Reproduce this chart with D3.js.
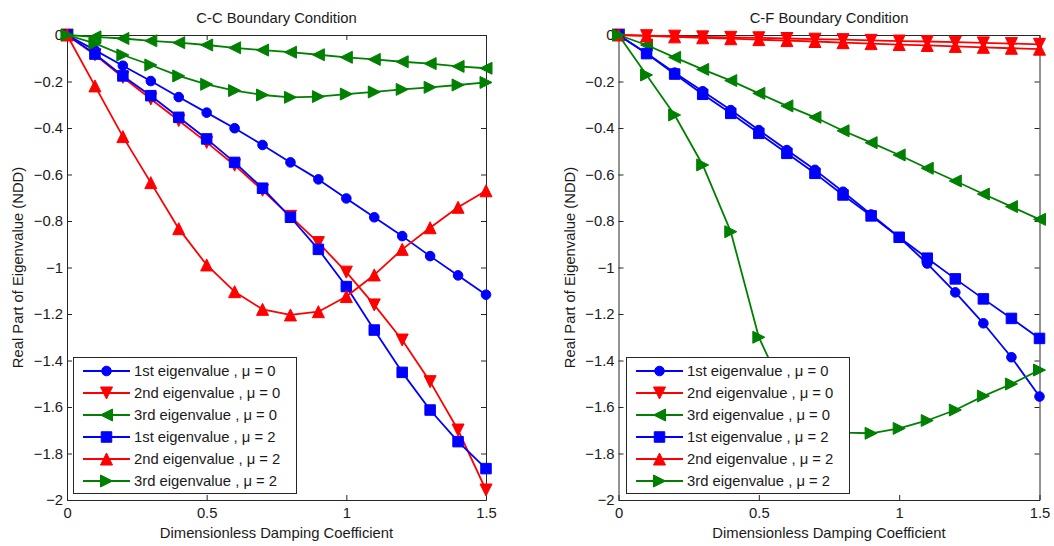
<!DOCTYPE html>
<html>
<head>
<meta charset="utf-8">
<script src="https://cdn.jsdelivr.net/npm/d3@7"></script>
<style>
  html, body { margin: 0; padding: 0; background: #fff; }
  svg { display: block; font-family: "Liberation Sans", Arial, sans-serif; }
</style>
</head>
<body>
<svg id="chart" width="1054" height="546"></svg>
<script>
// Damping coefficient samples shared by every curve
const damping = [0, 0.1, 0.2, 0.3, 0.4, 0.5, 0.6, 0.7, 0.8, 0.9, 1.0, 1.1, 1.2, 1.3, 1.4, 1.5];

const xTicks = [0, 0.5, 1, 1.5];
const yTicks = [0, -0.2, -0.4, -0.6, -0.8, -1, -1.2, -1.4, -1.6, -1.8, -2];

const seriesNames = [
  "1st eigenvalue , \u03bc = 0",
  "2nd eigenvalue , \u03bc = 0",
  "3rd eigenvalue , \u03bc = 0",
  "1st eigenvalue , \u03bc = 2",
  "2nd eigenvalue , \u03bc = 2",
  "3rd eigenvalue , \u03bc = 2"
];
const seriesColors = ["#0000ff", "#ff0000", "#008000", "#0000ff", "#ff0000", "#008000"];
const seriesMarkers = ["circle", "triDown", "triLeft", "square", "triUp", "triRight"];

// Clamped-clamped: real part of eigenvalues
const ccFirstMu0  = [0, -0.065, -0.132, -0.198, -0.267, -0.334, -0.401, -0.473, -0.548, -0.621, -0.703, -0.784, -0.865, -0.951, -1.034, -1.117];
const ccSecondMu0 = [0, -0.085, -0.182, -0.275, -0.368, -0.462, -0.560, -0.668, -0.780, -0.893, -1.020, -1.161, -1.312, -1.491, -1.699, -1.957];
const ccThirdMu0  = [0, -0.008, -0.015, -0.025, -0.033, -0.043, -0.055, -0.065, -0.074, -0.085, -0.096, -0.105, -0.115, -0.123, -0.135, -0.143];
const ccFirstMu2  = [0, -0.082, -0.176, -0.261, -0.354, -0.447, -0.548, -0.659, -0.784, -0.922, -1.082, -1.269, -1.451, -1.613, -1.749, -1.865];
const ccSecondMu2 = [0, -0.219, -0.437, -0.635, -0.833, -0.989, -1.104, -1.180, -1.204, -1.190, -1.125, -1.032, -0.922, -0.829, -0.741, -0.670];
const ccThirdMu2  = [0, -0.036, -0.086, -0.129, -0.176, -0.212, -0.239, -0.258, -0.268, -0.265, -0.254, -0.245, -0.234, -0.225, -0.215, -0.204];

// Clamped-free: real part of eigenvalues
const cfFirstMu0  = [0, -0.078, -0.162, -0.242, -0.323, -0.409, -0.495, -0.580, -0.674, -0.772, -0.870, -0.983, -1.107, -1.240, -1.386, -1.555];
const cfSecondMu0 = [0, -0.003, -0.005, -0.008, -0.010, -0.012, -0.015, -0.018, -0.020, -0.023, -0.026, -0.028, -0.031, -0.034, -0.037, -0.040];
const cfThirdMu0  = [0, -0.043, -0.096, -0.148, -0.196, -0.251, -0.305, -0.354, -0.412, -0.463, -0.516, -0.573, -0.628, -0.684, -0.738, -0.793];
const cfFirstMu2  = [0, -0.080, -0.168, -0.255, -0.337, -0.423, -0.509, -0.595, -0.688, -0.778, -0.870, -0.960, -1.049, -1.135, -1.219, -1.305];
const cfSecondMu2 = [0, -0.004, -0.008, -0.012, -0.016, -0.020, -0.024, -0.028, -0.033, -0.037, -0.041, -0.045, -0.049, -0.053, -0.057, -0.061];
const cfThirdMu2  = [0, -0.172, -0.344, -0.559, -0.846, -1.300, -1.560, -1.670, -1.710, -1.713, -1.692, -1.658, -1.613, -1.553, -1.501, -1.441];

const panels = [
  {
    title: "C-C Boundary Condition",
    left: 67, right: 486,
    legend: { x: 73, y: 357, w: 223, h: 136 },
    series: [ccFirstMu0, ccSecondMu0, ccThirdMu0, ccFirstMu2, ccSecondMu2, ccThirdMu2]
  },
  {
    title: "C-F Boundary Condition",
    left: 618.5, right: 1039.5,
    legend: { x: 626, y: 357, w: 223, h: 136 },
    series: [cfFirstMu0, cfSecondMu0, cfThirdMu0, cfFirstMu2, cfSecondMu2, cfThirdMu2]
  }
];

const plotTop = 35, plotBottom = 500;
const axisColor = "#262626";
const textColor = "#1a1a1a";
const fontSize = "14.8px";
const lineWidth = 1.8;
const svg = d3.select("#chart");

// Marker path for each symbol, centred on the origin
function markerPath(kind, s) {
  const h = s / 2;
  switch (kind) {
    case "square":   return `M${-h},${-h}H${h}V${h}H${-h}Z`;
    case "triUp":    return `M0,${-h}L${h},${h}L${-h},${h}Z`;
    case "triDown":  return `M0,${h}L${h},${-h}L${-h},${-h}Z`;
    case "triLeft":  return `M${-h},0L${h},${-h}L${h},${h}Z`;
    case "triRight": return `M${h},0L${-h},${-h}L${-h},${h}Z`;
  }
  return null;
}

function drawMarker(g, kind, color, x, y) {
  if (kind === "circle") {
    g.append("circle").attr("cx", x).attr("cy", y).attr("r", 4.8)
      .attr("fill", color).attr("stroke", color).attr("stroke-width", 1);
  } else {
    const size = kind === "square" ? 10.5 : 12;
    g.append("path").attr("d", markerPath(kind, size))
      .attr("transform", `translate(${x},${y})`)
      .attr("fill", color).attr("stroke", color).attr("stroke-width", 1)
      .attr("stroke-linejoin", "miter");
  }
}

panels.forEach(p => {
  const x = d3.scaleLinear().domain([0, 1.5]).range([p.left, p.right]);
  const y = d3.scaleLinear().domain([-2, 0]).range([plotBottom, plotTop]);
  const g = svg.append("g");

  // Axes box with inward ticks on all four sides
  const fmt = d => d3.format("")(+(+d).toFixed(1));
  const axB = g.append("g").attr("transform", `translate(0,${plotBottom})`)
    .call(d3.axisBottom(x).tickValues(xTicks).tickSizeInner(-5).tickSizeOuter(0).tickPadding(7).tickFormat(fmt));
  const axT = g.append("g").attr("transform", `translate(0,${plotTop})`)
    .call(d3.axisTop(x).tickValues(xTicks).tickSizeInner(-5).tickSizeOuter(0).tickFormat(""));
  const axL = g.append("g").attr("transform", `translate(${p.left},0)`)
    .call(d3.axisLeft(y).tickValues(yTicks).tickSizeInner(-5).tickSizeOuter(0).tickPadding(4).tickFormat(fmt));
  const axR = g.append("g").attr("transform", `translate(${p.right},0)`)
    .call(d3.axisRight(y).tickValues(yTicks).tickSizeInner(-5).tickSizeOuter(0).tickFormat(""));
  [axB, axT, axL, axR].forEach(a => {
    a.select(".domain").attr("stroke", axisColor).attr("stroke-width", 1);
    a.selectAll(".tick line").attr("stroke", axisColor);
    a.selectAll(".tick text").attr("fill", textColor).style("font-size", fontSize)
      .style("font-family", "'Liberation Sans', Arial, sans-serif");
  });

  // Curves
  const line = d3.line().x((d, i) => x(damping[i])).y(d => y(d));
  p.series.forEach((vals, k) => {
    const color = seriesColors[k];
    const sg = g.append("g");
    sg.append("path").datum(vals).attr("d", line)
      .attr("fill", "none").attr("stroke", color).attr("stroke-width", lineWidth)
      .attr("stroke-linejoin", "round");
    vals.forEach((v, i) => drawMarker(sg, seriesMarkers[k], color, x(damping[i]), y(v)));
  });

  // Title and axis labels
  const cx = (p.left + p.right) / 2;
  g.append("text").attr("x", cx).attr("y", 23).attr("text-anchor", "middle")
    .style("font-size", fontSize).attr("fill", textColor).text(p.title);
  g.append("text").attr("x", cx).attr("y", 538).attr("text-anchor", "middle")
    .style("font-size", fontSize).attr("fill", textColor).text("Dimensionless Damping Coefficient");
  g.append("text")
    .attr("transform", `translate(${p.left - 49},${(plotTop + plotBottom) / 2}) rotate(-90)`)
    .attr("text-anchor", "middle").attr("dy", "0.35em")
    .style("font-size", fontSize).attr("fill", textColor).text("Real Part of Eigenvalue (NDD)");

  // Legend
  const L = p.legend;
  const lg = g.append("g");
  lg.append("rect").attr("x", L.x + 0.5).attr("y", L.y + 0.5).attr("width", L.w).attr("height", L.h)
    .attr("fill", "#fff").attr("stroke", axisColor).attr("stroke-width", 1);
  seriesNames.forEach((name, k) => {
    const ry = L.y + 14 + k * 22;
    const color = seriesColors[k];
    lg.append("line").attr("x1", L.x + 10).attr("x2", L.x + 57).attr("y1", ry).attr("y2", ry)
      .attr("stroke", color).attr("stroke-width", lineWidth);
    drawMarker(lg, seriesMarkers[k], color, L.x + 33.5, ry);
    lg.append("text").attr("x", L.x + 61).attr("y", ry).attr("dy", "0.35em")
      .style("font-size", fontSize).attr("fill", textColor).text(name);
  });
});
</script>
</body>
</html>
